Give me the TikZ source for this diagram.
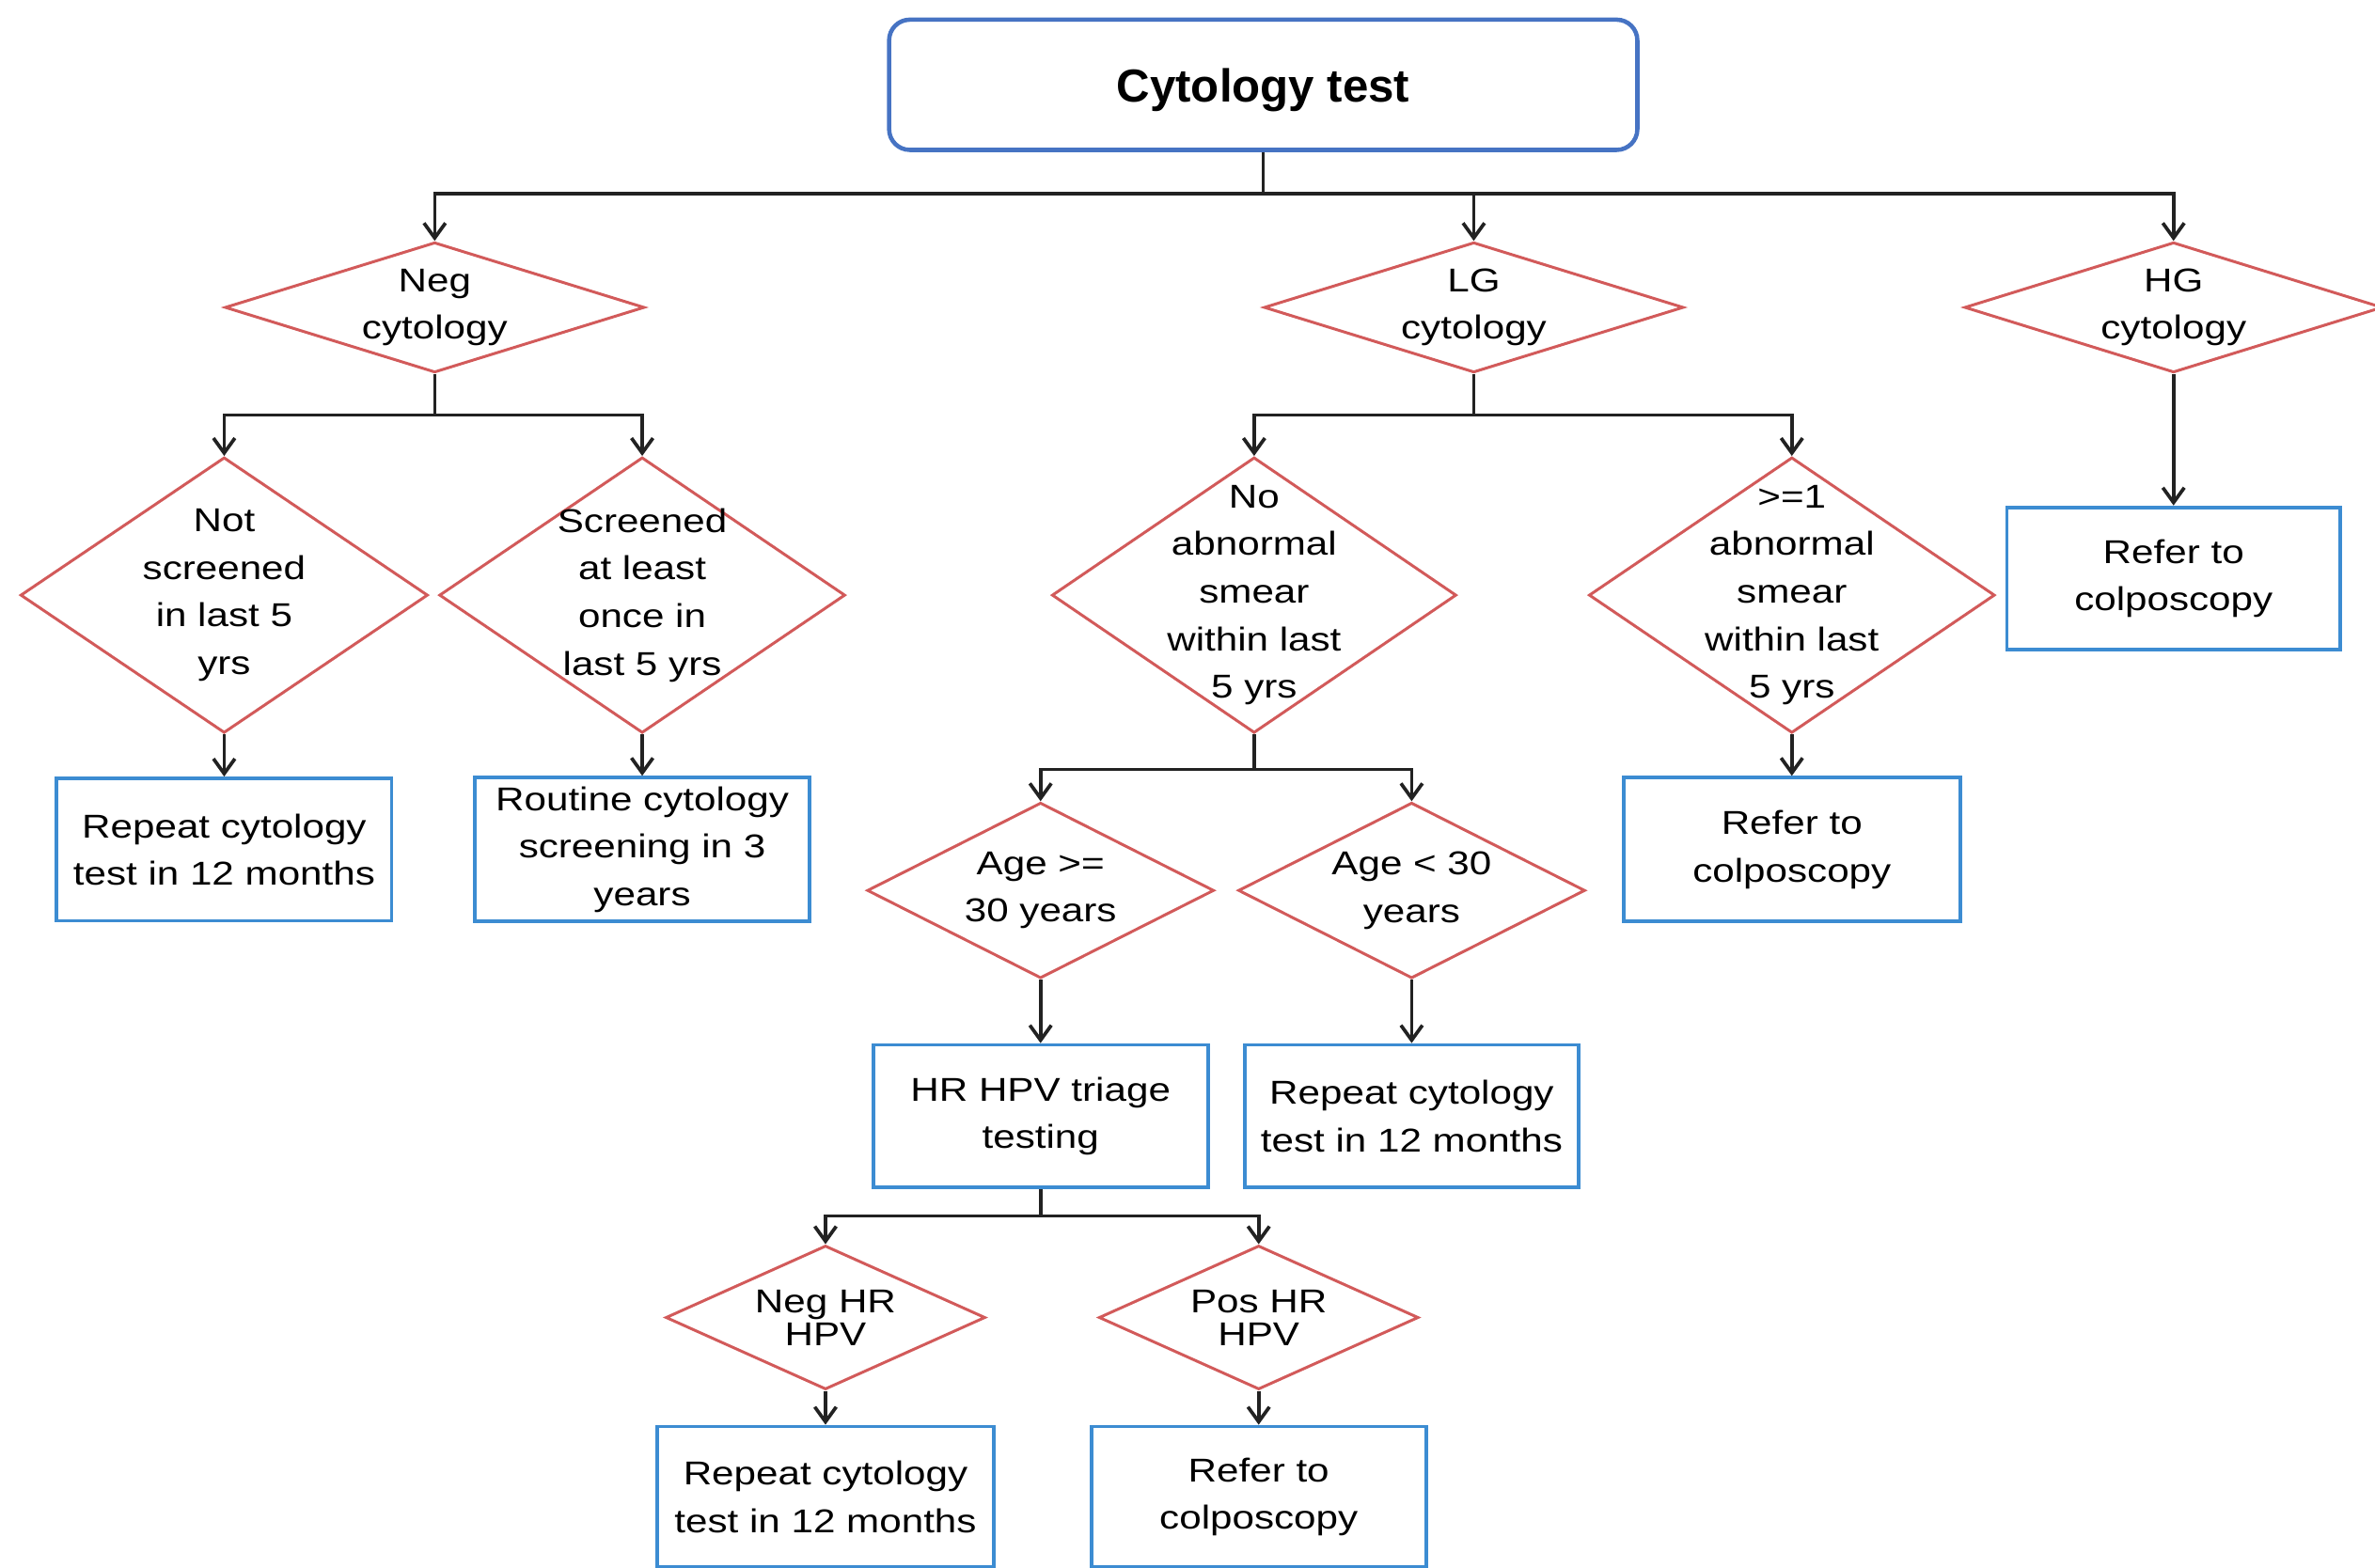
\documentclass[tikz,border=0pt]{standalone}
\usepackage{fontspec}
\setmainfont{Liberation Sans}
\newfontfamily\bodyfont[FakeStretch=1.2]{Liberation Sans}
\usetikzlibrary{shapes.geometric,arrows.meta}
\definecolor{boxblue}{HTML}{3C8CD2}
\definecolor{titleblue}{HTML}{4673C3}
\definecolor{diared}{HTML}{D25A5A}
\definecolor{lncol}{HTML}{222222}
\begin{document}
\begin{tikzpicture}[x=0.1611mm,y=-0.1611mm,
  sz/.style 2 args={minimum width=#1*0.1611mm,minimum height=#2*0.1611mm},
  txt/.style={font=\bodyfont\fontsize{10}{14.4}\selectfont, align=center, text=black},
  box/.style={draw=boxblue, line width=1.1pt, rectangle, inner sep=0pt, txt},
  dia/.style={draw=diared, line width=0.85pt, diamond, inner sep=0pt},
  conn/.style={draw=lncol, line width=1.05pt},
  arr/.style={conn, -{Straight Barb[length=4.5pt,width=6.5pt]}},
  dl/.style={label={[txt]center:#1}},
  dltight/.style={label={[txt, font=\bodyfont\fontsize{10}{10}\selectfont]center:#1}}
]
\useasboundingbox (0,0) rectangle (1568,1035);

% title
\node[draw=titleblue, line width=1.3pt, rounded corners=0.22cm, sz={494}{86},
      text depth=0pt, font=\bfseries\fontsize{14}{16}\selectfont] (title) at (834,56) {Cytology test};

% level 1
\node[dia, sz={277}{86}, dl={Neg\\cytology}] (neg) at (287,203) {};
\node[dia, sz={277}{86}, dl={LG\\cytology}] (lg) at (973,203) {};
\node[dia, sz={276}{86}, dl={HG\\cytology}] (hg) at (1435,203) {};

% neg branch
\node[dia, sz={269}{182}, dl={Not\\screened\\in last 5\\yrs}] (ns) at (148,393) {};
\node[dia, sz={268}{182}, dl={Screened\\at least\\once in\\last 5 yrs}] (sc) at (424,393) {};
\node[box, sz={221}{94}] (rc1) at (148,561) {Repeat cytology\\test in 12 months};
\node[box, sz={221}{95}] (rcs) at (424,561) {Routine cytology\\screening in 3\\years};

% LG branch
\node[dia, sz={267}{182}, dl={No\\abnormal\\smear\\within last\\5 yrs}] (na) at (828,393) {};
\node[dia, sz={268}{182}, dl={>=1\\abnormal\\smear\\within last\\5 yrs}] (ab) at (1183,393) {};
\node[box, sz={222}{95}] (ref1) at (1183,561) {Refer to\\colposcopy};

% HG branch
\node[box, sz={220}{94}] (ref0) at (1435,382) {Refer to\\colposcopy};

% age
\node[dia, sz={229}{116}, dl={Age >=\\30 years}] (a1) at (687,588) {};
\node[dia, sz={229}{116}, dl={Age < 30\\years}] (a2) at (932,588) {};
\node[box, sz={221}{94}] (hr) at (687,737) {HR HPV triage\\testing};
\node[box, sz={220}{94}] (rc2) at (932,737) {Repeat cytology\\test in 12 months};

% HPV
\node[dia, sz={211}{95}, dltight={Neg HR\\HPV}] (nh) at (545,870) {};
\node[dia, sz={211}{95}, dltight={Pos HR\\HPV}] (ph) at (831,870) {};
\node[box, sz={222}{93}] (rc3) at (545,988.5) {Repeat cytology\\test in 12 months};
\node[box, sz={221}{93}] (ref2) at (831,988.5) {Refer to\\colposcopy};

% junctions
\coordinate (j1) at (834,128);
\coordinate (j2) at (287,274);
\coordinate (j3) at (973,274);
\coordinate (j4) at (828,508);
\coordinate (j5) at (687,803);

% connectors
\draw[conn] (title.south) -- (j1);
\draw[arr] (j1) -| (neg.north);
\draw[arr] (j1) -| (lg.north);
\draw[arr] (j1) -| (hg.north);

\draw[conn] (neg.south) -- (j2);
\draw[arr] (j2) -| (ns.north);
\draw[arr] (j2) -| (sc.north);
\draw[arr] (ns.south) -- (ns.south |- rc1.north);
\draw[arr] (sc.south) -- (sc.south |- rcs.north);

\draw[conn] (lg.south) -- (j3);
\draw[arr] (j3) -| (na.north);
\draw[arr] (j3) -| (ab.north);
\draw[arr] (ab.south) -- (ab.south |- ref1.north);

\draw[arr] (hg.south) -- (hg.south |- ref0.north);

\draw[conn] (na.south) -- (j4);
\draw[arr] (j4) -| (a1.north);
\draw[arr] (j4) -| (a2.north);
\draw[arr] (a1.south) -- (a1.south |- hr.north);
\draw[arr] (a2.south) -- (a2.south |- rc2.north);

\draw[conn] (hr.south) -- (j5);
\draw[arr] (j5) -| (nh.north);
\draw[arr] (j5) -| (ph.north);
\draw[arr] (nh.south) -- (nh.south |- rc3.north);
\draw[arr] (ph.south) -- (ph.south |- ref2.north);
\end{tikzpicture}
\end{document}
